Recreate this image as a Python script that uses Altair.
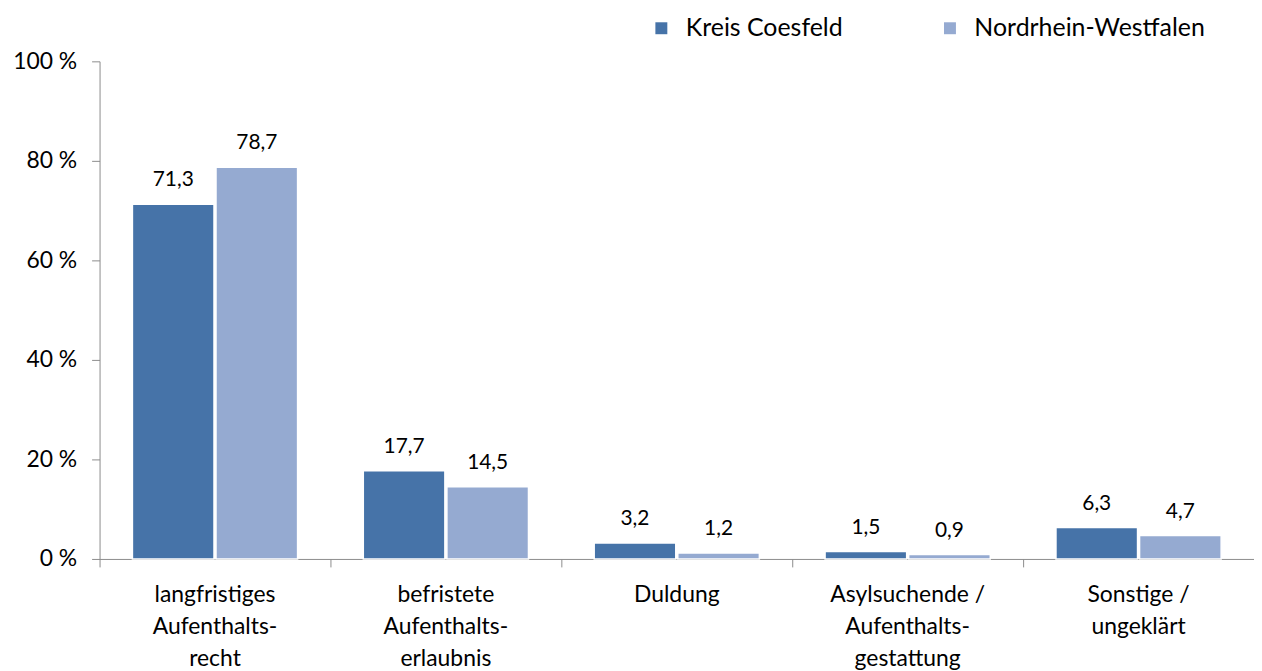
import altair as alt
import pandas as pd

categories = [
    "langfristiges\nAufenthalts-\nrecht",
    "befristete\nAufenthalts-\nerlaubnis",
    "Duldung",
    "Asylsuchende /\nAufenthalts-\ngestattung",
    "Sonstige /\nungeklärt",
]
series = ["Kreis Coesfeld", "Nordrhein-Westfalen"]
kreis = [71.3, 17.7, 3.2, 1.5, 6.3]
nrw = [78.7, 14.5, 1.2, 0.9, 4.7]
y_ticks = [0, 20, 40, 60, 80, 100]
colors = ["#4673A8", "#95AAD1"]

rows = []
for c, a, b in zip(categories, kreis, nrw):
    rows.append({"cat": c, "series": series[0], "value": a})
    rows.append({"cat": c, "series": series[1], "value": b})
df = pd.DataFrame(rows)

FONT = "Lato"

x = alt.X(
    "cat:N",
    sort=categories,
    title=None,
    scale=alt.Scale(paddingInner=0, paddingOuter=0),
    axis=alt.Axis(
        bandPosition=0,
        labelAngle=0,
        labelExpr="split(datum.label, '\\n')",
        labelFontSize=23,
        labelLineHeight=32,
        labelFont=FONT,
        labelColor="#000000",
        labelPadding=17,
        labelBaseline="top",
        tickSize=8,
        tickColor="#8C8C8C",
        domainColor="#8C8C8C",
        labelBound=False,
        labelOverlap=False,
        labelFlush=False,
        labelLimit=0,
    ),
)
xoff = alt.XOffset(
    "series:N",
    sort=series,
    scale=alt.Scale(paddingInner=0.024, paddingOuter=0.393),
)
y = alt.Y(
    "value:Q",
    title=None,
    scale=alt.Scale(domain=[0, 100], nice=False),
    axis=alt.Axis(
        values=y_ticks,
        labelExpr="datum.value + ' %'",
        labelFontSize=23,
        labelFont=FONT,
        labelColor="#000000",
        labelPadding=15,
        tickSize=8,
        tickColor="#8C8C8C",
        domainColor="#8C8C8C",
        grid=False,
    ),
)

bars = alt.Chart(df).mark_bar(stroke="white", strokeWidth=1.5).encode(
    x=x,
    xOffset=xoff,
    y=y,
    color=alt.Color(
        "series:N",
        sort=series,
        scale=alt.Scale(domain=series, range=colors),
        legend=alt.Legend(
            title=None,
            orient="none",
            legendX=552,
            legendY=-46,
            direction="horizontal",
            symbolType="square",
            symbolSize=144,
            symbolStrokeWidth=0,
            labelFontSize=25,
            labelFont=FONT,
            labelColor="#000000",
            labelLimit=0,
            columnPadding=95,
            labelOffset=12,
        ),
    ),
)

labels = alt.Chart(df).transform_calculate(
    lbl="replace(format(datum.value, '.1f'), '.', ',')"
).mark_text(
    baseline="alphabetic", dy=-18, fontSize=21, font=FONT, color="#000000"
).encode(
    x=alt.X("cat:N", sort=categories),
    xOffset=alt.XOffset("series:N", sort=series),
    y="value:Q",
    text="lbl:N",
)

chart = (
    alt.layer(bars, labels)
    .properties(
        width=1160,
        height=500,
        autosize=alt.AutoSizeParams(type="none"),
        padding={"left": 92, "top": 52, "right": 0, "bottom": 110},
    )
    .configure_view(stroke=None)
)

chart.save("out.html", embed_options={"renderer": "svg", "actions": False})
